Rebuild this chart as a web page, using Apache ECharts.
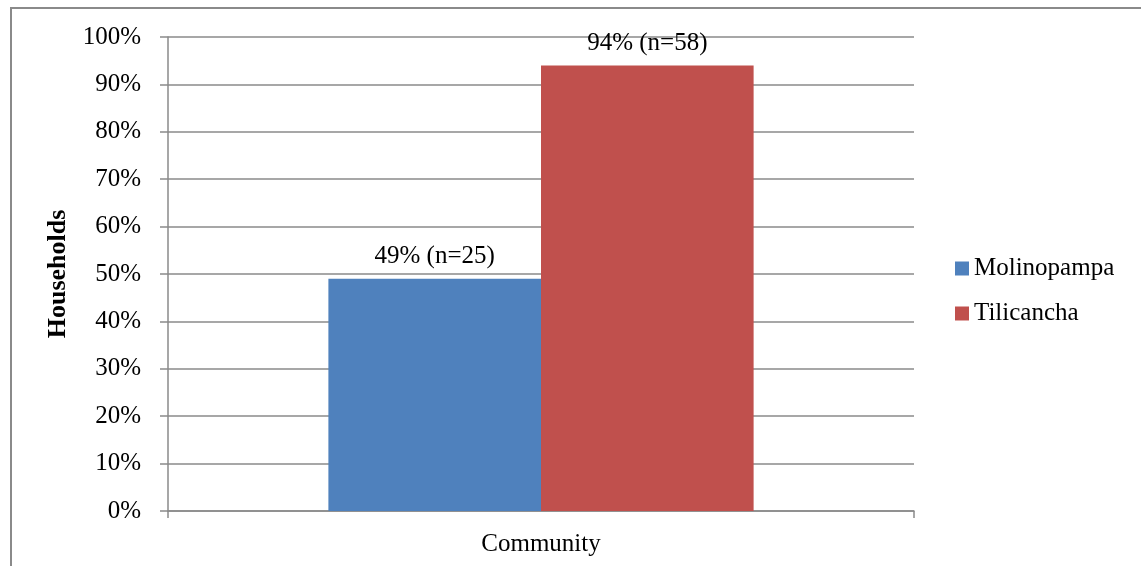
<!DOCTYPE html>
<html>
<head>
<meta charset="utf-8">
<script src="https://cdn.jsdelivr.net/npm/echarts@6/dist/echarts.min.js"></script>
<style>
  html, body { margin: 0; padding: 0; background: #fff; }
  #chart { width: 1141px; height: 566px; }
</style>
</head>
<body>
<div id="chart"></div>
<script>
// Share of households per community
const categories = ['Community'];
const seriesNames = ['Molinopampa', 'Tilicancha'];
const molinopampa = [49];
const tilicancha = [94];
const sampleSizes = { Molinopampa: [25], Tilicancha: [58] };
const yTicks = { min: 0, max: 100, interval: 10 };

const FONT = '"Liberation Serif", "Times New Roman", serif';
const GRID_GRAY = '#8a8a8a';

const chart = echarts.init(document.getElementById('chart'), null, { renderer: 'canvas' });

function barLabel(name) {
  return {
    show: true,
    position: 'top',
    distance: 10,
    fontFamily: FONT,
    fontSize: 25,
    color: '#000',
    formatter: p => p.value + '% (n=' + sampleSizes[name][p.dataIndex] + ')'
  };
}

chart.setOption({
  animation: false,
  backgroundColor: '#fff',
  textStyle: { fontFamily: FONT },
  graphic: [{
    // outer frame
    type: 'rect',
    shape: { x: 11, y: 8, width: 1200, height: 620 },
    style: { fill: 'none', stroke: GRID_GRAY, lineWidth: 2 },
    silent: true,
    z: -1
  }],
  grid: { left: 168, right: 227, top: 37, bottom: 55, containLabel: false },
  legend: {
    orient: 'vertical',
    left: 950,
    top: 251,
    itemWidth: 14,
    itemHeight: 14,
    itemGap: 20,
    icon: 'rect',
    textStyle: { fontFamily: FONT, fontSize: 25, color: '#000' },
    data: seriesNames
  },
  xAxis: {
    type: 'category',
    data: categories,
    axisLine: { lineStyle: { color: GRID_GRAY, width: 1.5 } },
    axisTick: { show: true, length: 7, lineStyle: { color: GRID_GRAY, width: 1.5 } },
    axisLabel: { fontFamily: FONT, fontSize: 25, color: '#000', margin: 21 }
  },
  yAxis: {
    type: 'value',
    min: yTicks.min,
    max: yTicks.max,
    interval: yTicks.interval,
    name: 'Households',
    nameLocation: 'middle',
    nameGap: 88,
    nameRotate: 90,
    nameTextStyle: { fontFamily: FONT, fontSize: 26, fontWeight: 'bold', color: '#000' },
    axisLine: { show: true, lineStyle: { color: GRID_GRAY, width: 1.5 } },
    axisTick: { show: true, length: 8, lineStyle: { color: GRID_GRAY, width: 1.5 } },
    axisLabel: { fontFamily: FONT, fontSize: 25, color: '#000', margin: 27, formatter: '{value}%' },
    splitLine: { show: true, lineStyle: { color: GRID_GRAY, width: 1.5 } }
  },
  series: [
    {
      name: seriesNames[0],
      type: 'bar',
      data: molinopampa,
      barGap: '0%',
      barCategoryGap: '43%',
      itemStyle: { color: '#4F81BD' },
      label: barLabel(seriesNames[0])
    },
    {
      name: seriesNames[1],
      type: 'bar',
      data: tilicancha,
      barGap: '0%',
      barCategoryGap: '43%',
      itemStyle: { color: '#C0504D' },
      label: barLabel(seriesNames[1])
    }
  ]
});
</script>
</body>
</html>
